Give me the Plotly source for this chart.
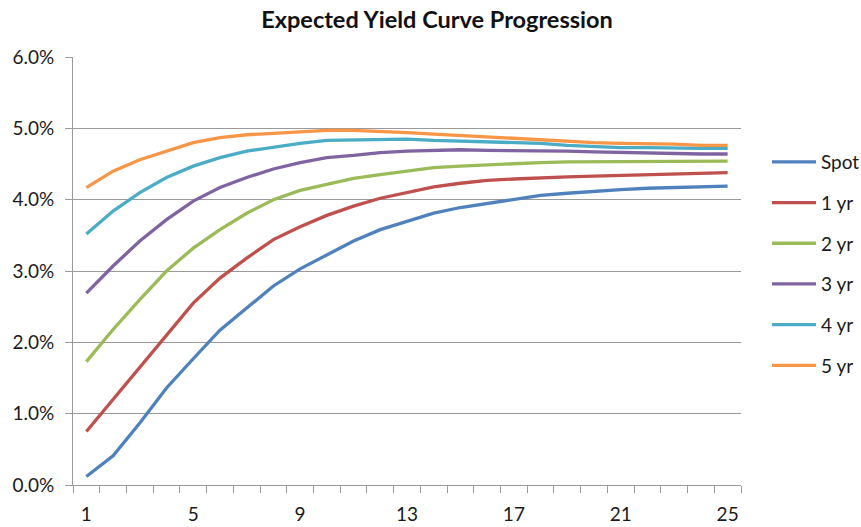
import plotly.graph_objects as go

# Maturity (years) on the horizontal axis
maturity = list(range(1, 26))

# Yield curves in percent, one per forward start
spot = [0.12, 0.41, 0.87, 1.36, 1.77, 2.17, 2.48, 2.79, 3.03, 3.23, 3.42, 3.58, 3.70,
        3.81, 3.89, 3.95, 4.01, 4.06, 4.09, 4.12, 4.14, 4.16, 4.17, 4.18, 4.19]
yr1 = [0.75, 1.20, 1.66, 2.11, 2.55, 2.90, 3.18, 3.44, 3.62, 3.78, 3.91, 4.02, 4.10,
       4.18, 4.23, 4.27, 4.29, 4.31, 4.32, 4.33, 4.34, 4.35, 4.36, 4.37, 4.38]
yr2 = [1.73, 2.18, 2.60, 3.00, 3.32, 3.58, 3.81, 4.00, 4.13, 4.21, 4.30, 4.35, 4.40,
       4.45, 4.47, 4.49, 4.51, 4.52, 4.53, 4.53, 4.53, 4.53, 4.53, 4.53, 4.54]
yr3 = [2.69, 3.07, 3.42, 3.72, 3.98, 4.17, 4.31, 4.43, 4.52, 4.59, 4.62, 4.66, 4.68,
       4.69, 4.70, 4.69, 4.69, 4.69, 4.68, 4.67, 4.66, 4.65, 4.65, 4.64, 4.64]
yr4 = [3.52, 3.84, 4.10, 4.31, 4.47, 4.59, 4.68, 4.74, 4.79, 4.83, 4.84, 4.85, 4.85,
       4.83, 4.82, 4.80, 4.80, 4.79, 4.76, 4.74, 4.73, 4.73, 4.72, 4.72, 4.72]
yr5 = [4.17, 4.40, 4.56, 4.68, 4.80, 4.87, 4.91, 4.93, 4.95, 4.97, 4.97, 4.96, 4.94,
       4.92, 4.90, 4.88, 4.85, 4.83, 4.81, 4.80, 4.79, 4.79, 4.78, 4.76, 4.76]

series_names = ["Spot", "1 yr", "2 yr", "3 yr", "4 yr", "5 yr"]
series_values = [spot, yr1, yr2, yr3, yr4, yr5]
series_colors = ["#4F81BD", "#C0504D", "#9BBB59", "#8064A2", "#4BACC6", "#F79646"]

x_tick_values = [1, 5, 9, 13, 17, 21, 25]
y_tick_values = [0, 1, 2, 3, 4, 5, 6]

FONT = "Lato, Calibri, Carlito, sans-serif"
GRID = "#9a9a9a"
TEXT = "#1a1a1a"

fig = go.Figure()
for name, vals, color in zip(series_names, series_values, series_colors):
    fig.add_trace(go.Scatter(
        x=maturity, y=vals, name=name, mode="lines",
        line=dict(color=color, width=3.3),
        legendgroup=name,
    ))

fig.update_layout(
    width=861, height=527,
    margin=dict(l=73, r=120, t=57, b=42, autoexpand=False),
    paper_bgcolor="white", plot_bgcolor="white",
    font=dict(family=FONT, size=19, color=TEXT),
    title=dict(
        text="<b>Expected Yield Curve Progression</b>",
        font=dict(family=FONT, size=23.5, color="#111111"),
        x=437 / 861, xanchor="center", xref="container",
        y=1 - 20 / 527, yanchor="middle", yref="container",
    ),
    showlegend=True,
    legend=dict(
        x=767 / 861, xanchor="left", xref="container",
        y=1 - 143 / 527, yanchor="top", yref="container",
        font=dict(family=FONT, size=19, color=TEXT),
        tracegroupgap=13,
        itemwidth=44,
        bgcolor="rgba(0,0,0,0)",
    ),
)

fig.update_xaxes(
    range=[0.5, 25.5],
    tickvals=x_tick_values,
    ticktext=[str(v) for v in x_tick_values],
    ticks="",
    showgrid=False, zeroline=False,
    showline=True, linecolor=GRID, linewidth=1,
    minor=dict(tick0=0.5, dtick=1, ticks="outside", ticklen=7, tickcolor=GRID, showgrid=False),
    tickfont=dict(family=FONT, size=19, color=TEXT),
    ticklabelstandoff=12,
    automargin=False,
    fixedrange=True,
)
fig.update_yaxes(
    range=[0, 6],
    tickvals=y_tick_values,
    ticktext=[f"{v:.1f}%" for v in y_tick_values],
    ticks="outside", ticklen=7, tickcolor=GRID,
    showgrid=True, gridcolor=GRID, gridwidth=1,
    zeroline=False,
    showline=True, linecolor=GRID, linewidth=1,
    tickfont=dict(family=FONT, size=19, color=TEXT),
    ticklabelstandoff=7,
    automargin=False,
    fixedrange=True,
)

fig.write_html("out.html")
